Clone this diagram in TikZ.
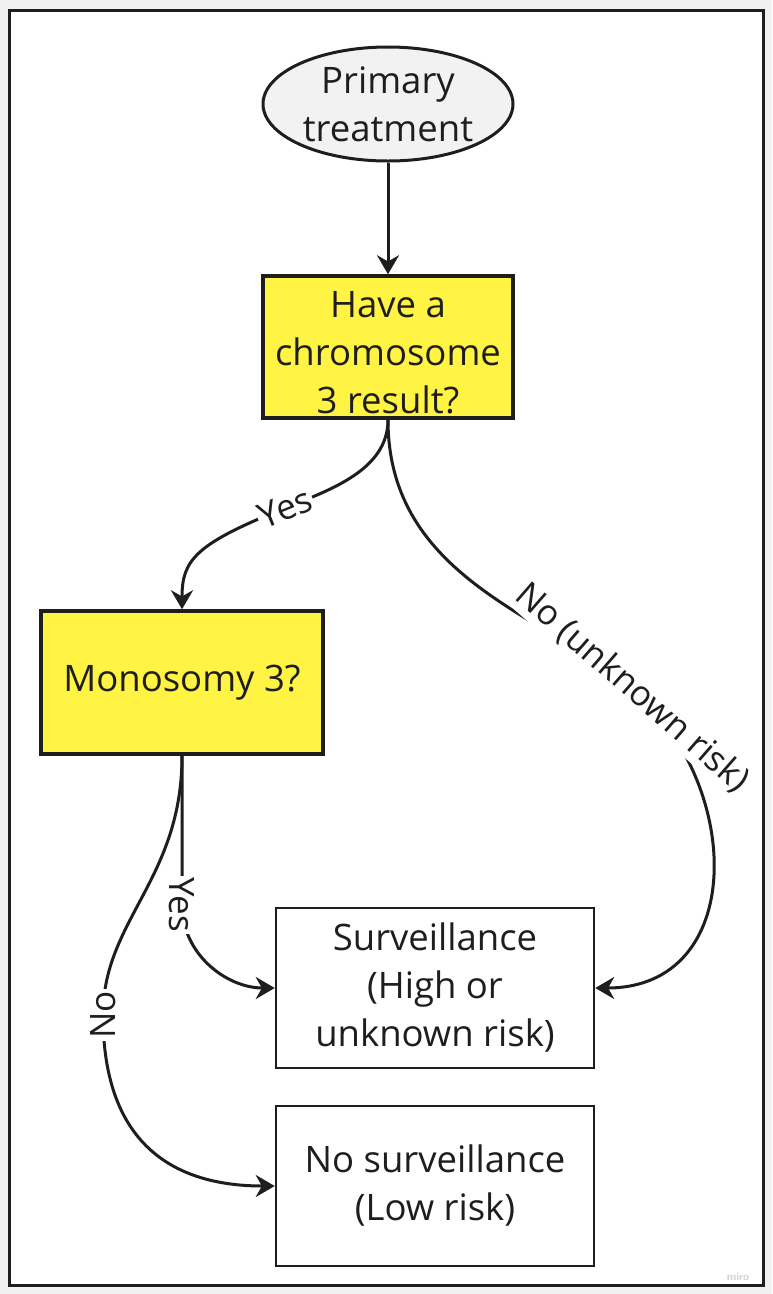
\documentclass[tikz,border=0pt]{standalone}
\usepackage{fontspec}
\setmainfont{Open Sans}
\usetikzlibrary{shapes.geometric,arrows.meta}
\definecolor{ink}{RGB}{30,30,30}
\definecolor{boxyellow}{RGB}{255,244,68}
\definecolor{paper}{RGB}{241,241,241}
\tikzstyle{every node}=[text=ink,font=\fontsize{36.5}{48}\selectfont,align=center]
\tikzstyle{startnode}=[shape=ellipse,draw=ink,fill=gray!10,line width=3pt,inner xsep=0pt,inner ysep=-2pt,minimum width=250pt,minimum height=114pt]
\tikzstyle{question}=[shape=rectangle,draw=ink,fill=boxyellow,line width=3.5pt,inner sep=0pt]
\tikzstyle{outcome}=[shape=rectangle,draw=ink,fill=white,line width=2.5pt,inner sep=0pt,minimum width=318pt,minimum height=160pt]
\tikzstyle{flow}=[draw=ink,line width=3pt,-{Stealth[length=19pt,width=22pt]}]
\tikzstyle{elabel}=[fill=white,inner sep=2pt,font=\fontsize{35}{40}\selectfont]

\begin{document}
\begin{tikzpicture}[x=1pt,y=1pt]
	\fill[paper] (0,0) rectangle (772,-1294);
	\useasboundingbox (0,0) rectangle (772,-1294);
	\draw[ink,fill=white,line width=3pt] (9.5,-10.5) rectangle (763.5,-1285.5);
	\node[startnode] (start) at (388,-104) {Primary\\treatment};
	\node[question,minimum width=250pt,minimum height=142pt] (chrom) at (388,-347) {\rule{0pt}{38pt}Have a\\chromosome\\3 result?};
	\node[question,minimum width=282pt,minimum height=143pt] (mono) at (182,-682.5) {Monosomy 3?};
	\node[outcome] (surv) at (435,-988) {Surveillance\\(High or\\unknown risk)};
	\node[outcome] (nosurv) at (435,-1186) {No surveillance\\(Low risk)};
	\node[text=gray!35,font=\sffamily\bfseries\fontsize{11}{11}\selectfont] (miro) at (738,-1277) {miro};
	\draw[flow] (start) -- (chrom);
	\draw[flow] (chrom.south) .. controls (388,-470) and (330,-490) .. (285,-508) node[elabel,rotate=22] {Yes} .. controls (195,-544) and (182,-560) .. (mono.north);
	\draw[flow] (chrom.south) .. controls (388,-580) and (549,-616) .. (632,-688) node[elabel,rotate=-41] {No (unknown risk)} .. controls (745,-786) and (746,-988) .. (surv.east);
	\draw[flow] (mono.south) -- (182,-905) node[elabel,rotate=-90] {Yes} to[out=-90,in=180] (surv.west);
	\draw[flow] (mono.south) .. controls (182,-880) and (103,-920) .. (103,-1015) node[elabel,rotate=90] {No} .. controls (103,-1150) and (180,-1186) .. (nosurv.west);
\end{tikzpicture}
\end{document}
